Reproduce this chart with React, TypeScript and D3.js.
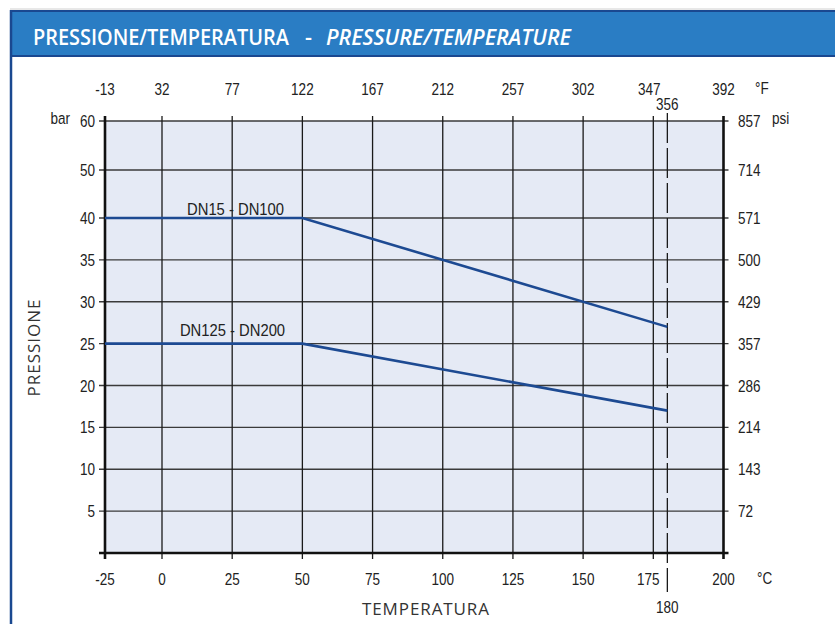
import React, { useLayoutEffect, useRef } from "react";
import * as d3 from "d3";

// ---- data ----
const celsiusTicks = [-25, 0, 25, 50, 75, 100, 125, 150, 175, 200];
const fahrenheitLabels = ["-13", "32", "77", "122", "167", "212", "257", "302", "347", "392"];
const markC = 180;
const markF = "356";
const barTicks = [5, 10, 15, 20, 25, 30, 35, 40, 50, 60];
const psiLabels = ["72", "143", "214", "286", "357", "429", "500", "571", "714", "857"];

const seriesNames = ["DN15 - DN100", "DN125 - DN200"];
const seriesTemps = [-25, 50, 180];
const seriesA = [40, 40, 27];
const seriesB = [25, 25, 17];

const titleParts = ["PRESSIONE/TEMPERATURA", "-", "PRESSURE/TEMPERATURE"];

const W = 835;
const H = 624;

const FONT = "'Liberation Sans', Arial, sans-serif";
const TITLE_FONT = "'Open Sans', 'Noto Sans', sans-serif";

type LP = { x: number; y: number; anchor?: "start" | "middle" | "end"; size?: number; sx?: number; children: React.ReactNode };
function L({ x, y, anchor = "start", size = 16.5, sx = 0.82, children }: LP) {
  return (
    <text transform={`translate(${x},${y}) scale(${sx},1)`} textAnchor={anchor} fontFamily={FONT} fontSize={size} fill="#222">
      {children}
    </text>
  );
}

// text squeezed horizontally to a target width via a measured scale
function FitText({ x, y, width, italic, children }: { x: number; y: number; width: number; italic?: boolean; children: string }) {
  const ref = useRef<SVGTextElement>(null);
  useLayoutEffect(() => {
    const el = ref.current;
    if (!el) return;
    const w = el.getComputedTextLength();
    const s = w > 0 ? width / w : 1;
    el.setAttribute("transform", `translate(${x},${y}) scale(${s},1)`);
  }, [x, y, width]);
  return (
    <text ref={ref} transform={`translate(${x},${y})`} fill="#fff" fontFamily={TITLE_FONT} fontWeight={600}
      fontStyle={italic ? "italic" : "normal"} fontSize={22}>
      {children}
    </text>
  );
}

export default function App() {
  // piecewise-linear scales, as in the reference
  const x = d3.scaleLinear().domain([-25, 0, 200]).range([105, 162, 723.5]);
  const y = d3.scaleLinear().domain([0, 40, 50, 60]).range([553, 218, 170, 121]);

  const left = x(-25);
  const right = x(200);
  const top = y(60);
  const bottom = y(0);

  const line = d3
    .line<[number, number]>()
    .x((d) => x(d[0]))
    .y((d) => y(d[1]));

  const series = [seriesA, seriesB].map((vals) =>
    seriesTemps.map((t, i) => [t, vals[i]] as [number, number])
  );

  const gridInnerC = celsiusTicks.filter((c) => c > -25 && c < 200);

  return (
    <svg
      width={W}
      height={H}
      style={{ position: "absolute", left: 0, top: 0, display: "block", background: "#fff" }}
    >
      {/* header */}
      <line x1={10} x2={W} y1={9} y2={9} stroke="#d0d0d0" strokeWidth={1} />
      <rect x={11} y={11} width={W} height={45} fill="#2a7dc4" stroke="#1a4890" strokeWidth={2} />
      <line x1={11} x2={11} y1={10} y2={H} stroke="#1a4890" strokeWidth={2.5} />
      <FitText x={33} y={44.5} width={256}>{titleParts[0]}</FitText>
      <FitText x={305} y={44.5} width={7}>{titleParts[1]}</FitText>
      <FitText x={326} y={44.5} width={245} italic>{titleParts[2]}</FitText>

      {/* plot background */}
      <rect x={left} y={top} width={right - left} height={bottom - top} fill="#e5eaf5" />

      {/* horizontal gridlines */}
      {barTicks.map((b) => (
        <line key={"h" + b} x1={left - 6} x2={right + 5} y1={y(b)} y2={y(b)} stroke="#3a3a3a" strokeWidth={1.4} />
      ))}

      {/* vertical gridlines */}
      {gridInnerC.map((c) => (
        <line key={"v" + c} x1={x(c)} x2={x(c)} y1={top - 5} y2={bottom + 6} stroke="#1a1a1a" strokeWidth={1.3} />
      ))}

      {/* 180 °C dashed marker */}
      <line x1={x(markC)} x2={x(markC)} y1={113} y2={592} stroke="#1a1a1a" strokeWidth={1.3} strokeDasharray="30,5" />

      {/* axes frame */}
      <line x1={left} x2={left} y1={top - 5} y2={bottom + 6} stroke="#111" strokeWidth={2.6} />
      <line x1={right} x2={right} y1={top - 5} y2={bottom + 6} stroke="#111" strokeWidth={2.6} />
      <line x1={left - 6} x2={right + 5} y1={bottom} y2={bottom} stroke="#111" strokeWidth={2.6} />

      {/* series lines */}
      {series.map((s, i) => (
        <path key={"s" + i} d={line(s) || ""} fill="none" stroke="#1d4a92" strokeWidth={2.6} />
      ))}
      <L x={235.5} y={215} anchor="middle" size={17} sx={0.87}>{seriesNames[0]}</L>
      <L x={232.5} y={335.5} anchor="middle" size={17} sx={0.87}>{seriesNames[1]}</L>

      {/* left axis labels (bar) */}
      {barTicks.map((b) => (
        <L key={"lb" + b} x={95} y={y(b) + 6} anchor="end">{b}</L>
      ))}
      <L x={70} y={124} anchor="end">bar</L>

      {/* right axis labels (psi) */}
      {barTicks.map((b, i) => (
        <L key={"rp" + b} x={738} y={y(b) + 6}>{psiLabels[i]}</L>
      ))}
      <L x={772} y={124}>psi</L>

      {/* bottom axis labels (°C) */}
      {celsiusTicks.map((c) => (
        <L key={"bc" + c} x={x(c) - (c === 175 ? 5 : 0)} y={585} anchor="middle">{c}</L>
      ))}
      <L x={x(markC)} y={613} anchor="middle">{markC}</L>
      <L x={757} y={584}>°C</L>

      {/* top axis labels (°F) */}
      {celsiusTicks.map((c, i) => (
        <L key={"tf" + c} x={x(c) - (c === 175 ? 4 : 0)} y={95} anchor="middle">{fahrenheitLabels[i]}</L>
      ))}
      <L x={x(markC)} y={110} anchor="middle">{markF}</L>
      <L x={755} y={94}>°F</L>

      {/* axis titles */}
      <text transform="translate(40,348) rotate(-90)" textAnchor="middle" fontFamily={TITLE_FONT} fontSize={17}
        textLength={97} lengthAdjust="spacing" fill="#333">PRESSIONE</text>
      <text x={425.5} y={615} textAnchor="middle" fontFamily={TITLE_FONT} fontSize={17} textLength={127}
        lengthAdjust="spacing" fill="#333">TEMPERATURA</text>
    </svg>
  );
}
